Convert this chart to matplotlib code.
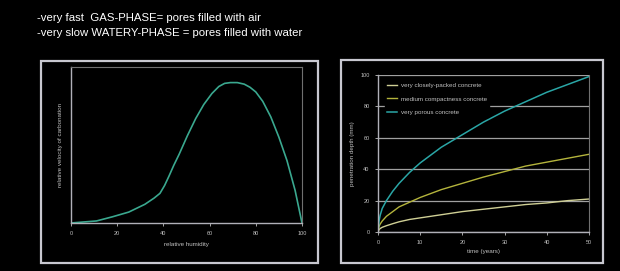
import numpy as np
import matplotlib.pyplot as plt
from matplotlib.patches import Rectangle

plt.rcParams['font.family'] = ['Liberation Sans', 'DejaVu Sans']

# left chart: relative velocity of carbonation vs relative humidity
rh = [0, 5, 11, 18, 25, 32, 36, 38.5, 40.5, 42.4, 44.5, 46.8, 50.4, 54, 57.5, 61, 64, 66.5, 69, 72, 75,
      77.5, 80, 83, 86.5, 90, 93.5, 97, 100]
velocity = [0, 0.6, 1.3, 4, 7, 12, 16, 19, 24, 30, 37, 44, 56, 67, 76, 83, 87.5, 89.5, 90, 90, 89,
            87, 84, 78, 68, 55, 40, 21, 0]

# right chart: penetration depth vs time
years = [0, 0.25, 0.5, 1, 2, 3.5, 5, 7.5, 10, 15, 20, 25, 30, 35, 40, 45, 50]
closely_packed = [0, 1.5, 2.2, 3, 4, 5.3, 6.5, 8, 9, 11, 13, 14.5, 16, 17.5, 18.5, 20, 21]
medium = [0, 3.5, 5, 7, 10, 13, 16, 19, 22, 27, 31, 35, 38.5, 42, 44.5, 47, 49.5]
porous = [0, 7, 10.5, 15, 20, 26, 31, 38, 44, 54, 62, 70, 77, 83, 89, 94, 99]

W, H = 620, 271
fig = plt.figure(figsize=(W / 100, H / 100), dpi=100, facecolor='black')

fig.text(37 / W, 1 - 18 / H, '-very fast  GAS-PHASE= pores filled with air',
         color='white', fontsize=8.2, va='center', ha='left')
fig.text(37 / W, 1 - 33 / H, '-very slow WATERY-PHASE = pores filled with water',
         color='white', fontsize=8.2, va='center', ha='left')

# outer panel frames
for x0, y0, x1, y1 in [(41, 61, 318, 263), (341, 60, 603, 263)]:
    fig.patches.append(Rectangle((x0 / W, 1 - y1 / H), (x1 - x0) / W, (y1 - y0) / H,
                                 transform=fig.transFigure, fill=False,
                                 edgecolor='#c8c8d0', linewidth=1.6))

tick_col = '#c0c0c0'

# ---- left chart
ax1 = fig.add_axes([71 / W, 1 - 223 / H, (302 - 71) / W, (223 - 67) / H])
ax1.set_facecolor('black')
ax1.plot(rh, velocity, color='#3aa88f', linewidth=1.2)
ax1.set_xlim(0, 100)
ax1.set_ylim(0, 100)
ax1.set_xticks(range(0, 101, 20))
ax1.set_yticks([])
ax1.tick_params(axis='x', colors=tick_col, labelsize=4, length=2, width=0.6, pad=4)
ax1.set_xlabel('relative humidity', color=tick_col, fontsize=4.5, labelpad=4)
ax1.set_ylabel('relative velocity of carbonation', color=tick_col, fontsize=4.5, labelpad=6)
for s in ['left', 'bottom']:
    ax1.spines[s].set_color('#b0b0b8')
    ax1.spines[s].set_linewidth(1.0)
for s in ['top', 'right']:
    ax1.spines[s].set_color('#707070')
    ax1.spines[s].set_linewidth(0.8)

# ---- right chart
ax2 = fig.add_axes([378 / W, 1 - 232 / H, (589 - 378) / W, (232 - 75) / H])
ax2.set_facecolor('black')
ax2.set_xlim(0, 50)
ax2.set_ylim(0, 100)
ax2.set_xticks(range(0, 51, 10))
ax2.set_yticks(range(0, 101, 20))
ax2.grid(axis='y', color='#a0a0a0', linewidth=0.9)
ax2.set_axisbelow(True)
ax2.plot(years, closely_packed, color='#cfcf95', linewidth=1.0, label='very closely-packed concrete')
ax2.plot(years, medium, color='#b4b43c', linewidth=1.0, label='medium compactness concrete')
ax2.plot(years, porous, color='#2aa6a6', linewidth=1.1, label='very porous concrete')
ax2.tick_params(colors=tick_col, labelsize=4, length=2, width=0.6, pad=4)
ax2.set_xlabel('time (years)', color=tick_col, fontsize=4.5, labelpad=3)
ax2.set_ylabel('penetration depth (mm)', color=tick_col, fontsize=4.5, labelpad=4)
for s in ['left', 'bottom']:
    ax2.spines[s].set_color('#b0b0b8')
    ax2.spines[s].set_linewidth(1.0)
ax2.spines['top'].set_visible(False)
ax2.spines['right'].set_color('#707070')
ax2.spines['right'].set_linewidth(0.8)
leg = ax2.legend(loc='upper left', bbox_to_anchor=(0.02, 0.985), fontsize=4.5,
                 frameon=True, facecolor='black', edgecolor='black', framealpha=1,
                 handlelength=1.6, handletextpad=0.6, labelspacing=1.35, borderpad=0.3)
for t in leg.get_texts():
    t.set_color(tick_col)

fig.savefig('out.png', dpi=100, facecolor='black')
